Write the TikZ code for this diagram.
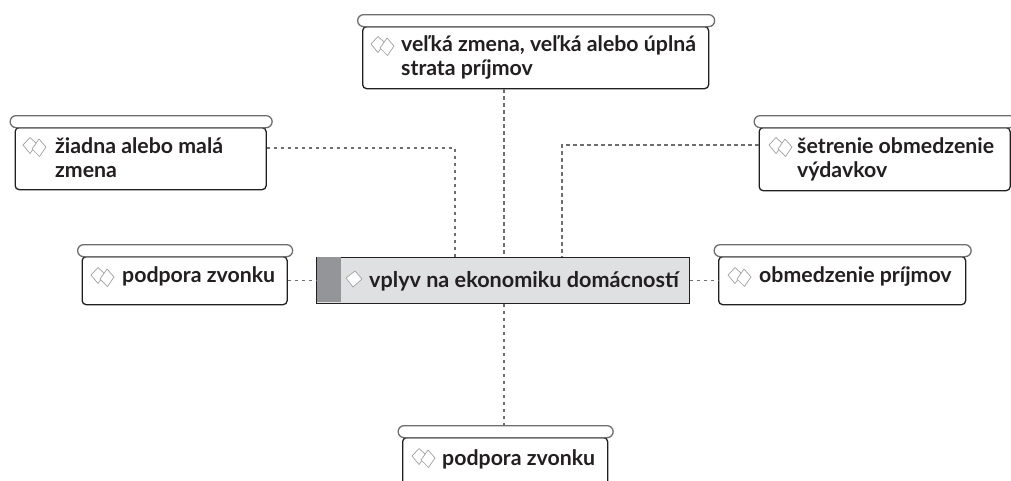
\documentclass[tikz,border=0pt]{standalone}
\usepackage{fontspec}
\setmainfont{Lato}
\definecolor{ink}{HTML}{231F20}
\definecolor{capline}{HTML}{6D6E71}
\definecolor{midg}{HTML}{939598}
\definecolor{lightg}{HTML}{DFE0E2}
\definecolor{icon}{HTML}{A0A0A3}
\tikzset{
  x=1pt,y=-1pt,
  body/.style={draw=ink,line width=1.3pt,fill=white,rounded corners=4pt,anchor=north west,inner sep=0pt},
  capbar/.style={draw=capline,line width=1.3pt,fill=white,rounded corners=6pt,anchor=north west,inner sep=0pt,minimum height=12pt},
  lbl/.style={anchor=base west,inner sep=0pt,align=left,text=ink,font=\fontsize{21.3}{24}\selectfont\bfseries},
  conn/.style={draw=capline,line width=1.3pt,dash pattern=on 3.5pt off 3.5pt},
  sq/.style={draw=icon,line width=.7pt,fill=white,line join=round},
}
\newcommand{\mybox}[7]{%
  \node[body,minimum width=#6pt,minimum height=#7pt] (#1) at (#2+#5,#3+12) {};
  \node[capbar,minimum width=#4pt] (#1cap) at (#2,#3) {};
}
\newcommand{\dbl}[2]{%
  \begin{scope}[shift={(#1,#2)}]
  \draw[sq] (-4,-9.5) -- (3,-3) -- (-4,6.5) -- (-11,-2) -- cycle;
  \draw[sq] (5,-8) -- (12,0) -- (5.5,9.5) -- (-2,2) -- cycle;
  \end{scope}
}
\begin{document}
\begin{tikzpicture}
\useasboundingbox (0,0) rectangle (1011,480);
\mybox{top}{357}{14}{357}{5}{346}{62}
\mybox{lft}{9.5}{115}{262}{5}{251}{62}
\mybox{rgt}{753.5}{115}{262}{5}{251}{63}
\mybox{pod}{77}{244}{215}{4.5}{205}{48}
\mybox{obm}{713.5}{244}{257}{4.5}{247}{48}
\mybox{bot}{397.5}{425}{215}{4.5}{205}{60}
\node[draw=ink,line width=1.3pt,fill=lightg,anchor=north west,inner sep=0pt,minimum width=372.5pt,minimum height=46pt] (c) at (316,256.5) {};
\fill[midg] ([shift={(.6pt,-.6pt)}]c.north west) rectangle (341,302);
\draw[conn] ([xshift=1pt]c.north |- top.south) -- ([xshift=1pt]c.north);
\draw[conn] (lft.east |- 0,148) -| ([xshift=-48pt]c.north);
\draw[conn] (rgt.west |- 0,145) -| ([xshift=59pt]c.north);
\draw[conn] (pod.east) -- (c.west |- pod.east);
\draw[conn] (c.east |- obm.west) -- (obm.west);
\draw[conn] ([xshift=1pt]c.south) -- ([xshift=1pt]c.south |- botcap.north);
\dbl{382}{46}
\dbl{34}{147}
\dbl{780}{147}
\dbl{102}{277}
\dbl{739}{277}
\dbl{423}{458}
\draw[sq] (355,271) -- (362,279) -- (353,287) -- (346,278) -- cycle;
\node[lbl] (tl) at (401,75) {veľká zmena, veľká alebo úplná\\strata príjmov};
\node[lbl] (ll) at (55,177) {žiadna alebo malá\\zmena};
\node[lbl] (rl) at (797,177) {šetrenie obmedzenie\\výdavkov};
\node[lbl] (pl) at (122,282) {podpora zvonku};
\node[lbl] (ol) at (759,282) {obmedzenie príjmov};
\node[lbl] (bl) at (442,465) {podpora zvonku};
\node[lbl,font=\fontsize{21.6}{24}\selectfont\bfseries] (cl) at (369,287) {vplyv na ekonomiku domácností};
\end{tikzpicture}
\end{document}
